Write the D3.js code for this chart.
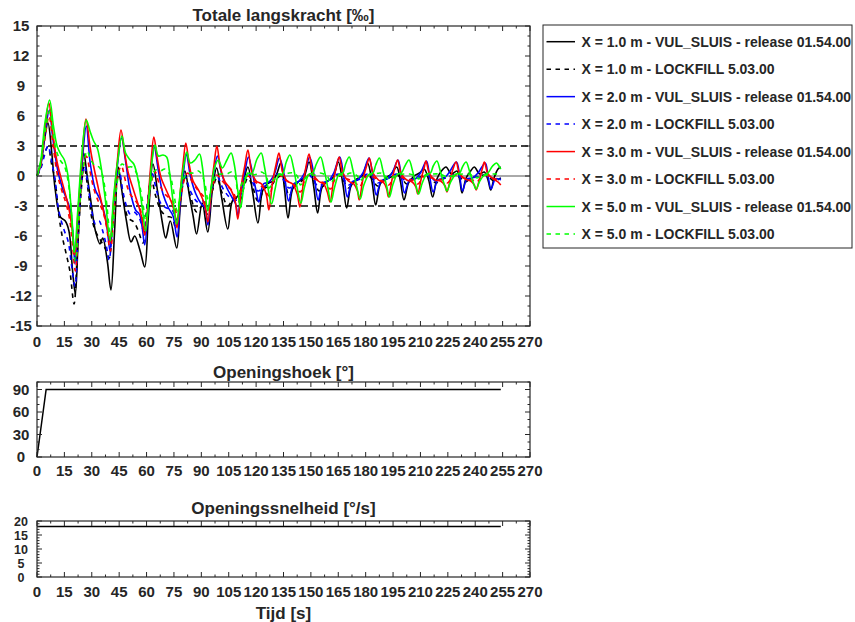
<!DOCTYPE html>
<html><head><meta charset="utf-8">
<script src="https://cdn.jsdelivr.net/npm/d3@7"></script>
<style>
body{margin:0;background:#fff;}
text{font-family:"Liberation Sans",Arial,sans-serif;font-weight:bold;fill:#262626;}
</style></head>
<body><svg id="c" width="855" height="622"></svg>
<script>
// ---------- data ----------
const xTicks = [0,15,30,45,60,75,90,105,120,135,150,165,180,195,210,225,240,255,270];
const yTicksMain = [-15,-12,-9,-6,-3,0,3,6,9,12,15];
const yTicksHoek = [0,30,60,90];
const yTicksSnel = [0,5,10,15,20];
const limitLines = [3,-3];

const legendLabels = [
 "X = 1.0 m - VUL_SLUIS - release 01.54.00","X = 1.0 m - LOCKFILL 5.03.00",
 "X = 2.0 m - VUL_SLUIS - release 01.54.00","X = 2.0 m - LOCKFILL 5.03.00",
 "X = 3.0 m - VUL_SLUIS - release 01.54.00","X = 3.0 m - LOCKFILL 5.03.00",
 "X = 5.0 m - VUL_SLUIS - release 01.54.00","X = 5.0 m - LOCKFILL 5.03.00"];
const seriesColors = ["#000000","#000000","#0000ff","#0000ff","#ff0000","#ff0000","#00ff00","#00ff00"];
const seriesDashed = [false,true,false,true,false,true,false,true];

// [time s, force ‰]
const vsX1 = [[0,0],[2,1.2],[4,3.5],[6,5.3],[8,2.5],[10,-1.4],[12.8,-4.1],[15.5,-4.5],[17.5,-5.5],[19.5,-9.5],[21,-11.8],
[22.5,-6.5],[24,-1],[25.6,2.3],[27.5,0],[29.5,-2.5],[32,-5.5],[34.5,-6.8],[36,-6.2],[38.5,-8.5],[40.5,-11.4],
[42.5,-5.5],[44.5,0.9],[46.5,-1.5],[49,-4.5],[51.5,-6.6],[53.5,-6],[56.5,-7.5],[59,-9.1],
[61,-4],[63.5,1.2],[66,-1.5],[68.5,-4.5],[70.5,-6.2],[73,-4.5],[76.5,-7.2],
[78.5,-3],[81,0.5],[83.5,-2],[85.5,-4],[87.4,-5.8],[90.5,-2.7],[93.5,-5.6],
[96,-1.5],[98.4,0.8],[101,-2],[104.5,-5.3],[107,-2.5],[110,-2],[113,-0.5],[115.5,0.9],[118,-1.5],[121,-4.7],
[123.5,-1.5],[126,-0.8],[129,-0.5],[131.5,0.3],[133.5,1.3],[135.5,-1.2],[137.5,-4.2],
[140,-1.3],[143,-0.6],[146,-0.2],[149,1.4],[151.5,-1],[153.7,-3.7],
[156,-1.2],[159,-0.5],[162,-0.2],[165,1.4],[167.5,-0.8],[169.6,-3.2],
[172,-1],[175,-0.3],[178,0],[181,1.3],[183.5,-0.6],[185.5,-2.9],
[188,-0.8],[191,-0.2],[194,0.2],[197,0.9],[199,-0.5],[201,-2.4],
[203.5,-0.7],[206.5,0],[209.5,0.3],[212,0.7],[214.5,-0.4],[216.7,-2.1],
[219,-0.3],[221.5,0.5],[224,0.9],[227,0.2],[230,0.5],[231.5,-0.4],[232.8,-1.7],
[235,-0.2],[237.5,0.5],[239.5,0.9],[242.5,0.2],[245,0.4],[247,-0.4],[248.5,-1.4],
[250.5,-0.1],[252.5,0.7],[254,0.9]];

const lfX1 = [[0,0],[2,0.8],[4,2.2],[6,2.9],[8,1.2],[10,-0.6],[12,-4],[14,-6.2],[16,-7.8],[18,-9.5],[20.3,-12.8],
[22,-8],[24,-2],[25.8,1.0],[28,-1.5],[30,-4.2],[32,-5.5],[35,-6.5],[37.5,-7.3],[39.5,-8.2],
[41.5,-4],[43.5,-0.8],[45,0.2],[47.5,-2.5],[50,-4.2],[53,-4.6],[55.5,-5.5],[58,-6.7],
[60,-3.5],[62.5,-0.3],[65,-2],[68,-3.5],[71,-4],[74,-4.2],[76,-5.2],
[78.5,-2.5],[81,-0.2],[84,-2],[87.5,-3.6],[90.5,-3],[93.5,-3.8],
[96,-1.5],[98.5,-0.2],[101,-1.5],[104.5,-3],[108,-2.2],[111,-2.5],[113.5,-1],[115.5,-0.2],[118,-1],[121,-2.5],
[125,-1.2],[128,-1],[131,-0.3],[133.5,0],[136,-0.8],[138,-2],[141,-1],[145,-0.5],[149,0.1],[152,-0.6],[154.5,-1.5],
[158,-0.7],[161,-0.3],[165,0.1],[168,-0.5],[170.5,-1.2],[174,-0.5],[178,-0.2],[181,0.1],[184,-0.4],[186.5,-1],
[190,-0.4],[194,-0.1],[197,0.1],[200,-0.3],[202.5,-0.8],[206,-0.3],[210,-0.1],[213,0.1],[216,-0.3],[218.5,-0.7],
[222,-0.3],[226,-0.1],[229,0.1],[232,-0.2],[234.5,-0.6],[238,-0.2],[242,0],[245,0.1],[248,-0.2],[250.5,-0.5],[254,-0.2]];

const vsX2 = [[0,0],[2,1],[4.5,4.5],[6.8,6.6],[8.5,4],[11,0.9],[13.7,-1.1],[16.4,-2.4],[18.3,-3.4],[19.6,-5.5],[20.8,-8.8],
[22.5,-4],[24.8,1.5],[27,5.0],[29.2,1.2],[32,-1.4],[34.7,-2.4],[37.4,-4.1],[38.6,-5.5],[40,-7.5],
[42,-3],[44,1],[46.3,3.8],[48.5,1.5],[51,-1.5],[54,-3.4],[56,-3.8],[57.5,-5],[59,-6.9],
[61,-2.5],[62.5,0.8],[64.2,2.9],[66.5,0.5],[69,-1.8],[72,-3.2],[74.5,-4],[76.7,-6.1],
[78.5,-2.5],[80,0],[81.8,2.2],[84,0],[87,-1.8],[90,-2.8],[92,-3.2],[93.6,-4.9],
[95.5,-1.5],[97,0.5],[98.8,2.0],[101,0.3],[104,-1.2],[107,-2.2],[108.8,-2.8],[110,-4.0],
[112,-1.2],[114,0.6],[115.8,1.9],[118,0.3],[120,-1.5],[121.5,-2.6],
[124,-0.8],[127,-0.6],[130,0.2],[132.8,1.8],[135.5,0],[137.8,-2.5],
[140.5,-0.8],[143.5,-0.5],[146.5,0.3],[149.3,1.9],[151.8,0],[154,-2.4],
[156.5,-0.7],[159.5,-0.5],[162.5,0.3],[165.8,1.9],[168,0],[170,-2.1],
[172.5,-0.6],[175.5,-0.4],[178.5,0.3],[181.8,1.8],[184,0],[185.8,-1.9],
[188.5,-0.5],[191.5,-0.3],[194.5,0.3],[197.7,1.6],[199.5,0],[201.3,-1.7],
[204,-0.4],[207,-0.3],[210,0.3],[213.3,1.5],[215,0],[217,-1.6],
[219.5,-0.4],[222.5,-0.3],[225.5,0.3],[229.7,1.4],[231.5,0],[233,-1.5],
[235.5,-0.3],[238.5,-0.2],[241.5,0.3],[245.5,1.3],[247,0],[248.7,-1.3],
[251,-0.3],[253,-0.3],[254,-0.4]];

const lfX2 = [[0,0],[2,0.7],[4,2],[6,3.0],[8,1.5],[10,-0.5],[11.5,-3],[13,-4.3],[15,-5.5],[17,-6.5],[19,-9],[20.8,-11],
[22.5,-6],[24.5,-0.5],[26,1.0],[28,-1],[30,-3.5],[32,-4.8],[34,-4.5],[36,-5.5],[38,-7],[39.5,-8.4],
[41.5,-4],[43.5,-0.5],[45,0.5],[47,-1.5],[49,-3],[51,-3.8],[53,-3.6],[56,-4.2],[58.5,-5.5],
[61,-2],[63,0.3],[65.5,-1.5],[68,-2.8],[71,-3.2],[74,-3.4],[76.5,-4.4],
[79,-1.5],[81,0],[84,-1.5],[88,-2.6],[91,-2.5],[93.5,-3.2],
[96,-1],[98.5,0],[102,-1.3],[106,-2.2],[110,-2.4],[113,-1],[115.5,0.3],[118,-0.6],[121,-1.5],[125,-1],[128,-0.8],
[132,0.2],[135,-0.4],[138,-1.2],[141,-0.8],[145,-0.4],[148.5,0.2],[151,-0.3],[154,-1],[158,-0.6],[161,-0.3],
[165,0.2],[168,-0.3],[170.5,-0.9],[174,-0.5],[177,-0.3],[181,0.2],[184,-0.2],[186.5,-0.7],[190,-0.4],[193,-0.2],
[197,0.2],[200,-0.2],[202.5,-0.6],[206,-0.3],[209,-0.2],[213,0.1],[216,-0.2],[218.5,-0.5],[222,-0.2],[225,-0.1],
[229,0.1],[232,-0.1],[234.5,-0.4],[238,-0.2],[241,-0.1],[245,0.1],[248,-0.1],[250.5,-0.3],[254,-0.2]];

const vsX3 = [[0,0],[2,1.2],[4.5,5],[6.5,7.3],[8.5,4.5],[11,1.4],[14.5,-1.1],[17.3,-3.1],[19,-5],[20.8,-7.9],
[22.5,-3.5],[24.5,1.5],[26.8,5.7],[29,3],[30,1.9],[33.8,-1.4],[36.5,-3.6],[38.5,-5.2],[40,-6.6],
[42,-2.5],[44,1.5],[46,4.6],[48,2.3],[50,0.3],[53,-1.5],[56,-3.2],[57.5,-4.3],[59,-5.9],
[61,-2],[62.5,1.5],[64,3.9],[66,1.6],[68,-0.2],[71,-1.5],[74,-2.8],[75.5,-3.8],[76.7,-5.2],
[78.5,-1.5],[80,1.2],[81.5,3.3],[83.5,1.0],[85.5,-0.5],[89,-1.6],[92,-3],[93.6,-4.6],
[95.5,-1],[97,1.2],[98.5,3.0],[100.5,0.8],[103,-0.6],[106,-1.3],[108.5,-2.5],[110,-4.3],
[112,-0.8],[113.8,1],[115.5,2.6],[117.5,0.5],[120,-0.5],[123,-0.8],[125.5,-1.8],[127,-3.4],
[129,-0.6],[131,1.2],[132.5,2.3],[134.5,0.4],[137,-0.5],[140,-0.8],[142.5,-1.8],[144,-3.1],
[146,-0.5],[147.5,1.1],[149,2.2],[151,0.3],[154,-0.5],[157,-0.8],[159,-1.6],[160.5,-2.6],
[162.5,-0.3],[164,1.0],[165.5,1.9],[167.5,0.3],[170.5,-0.5],[173.5,-0.8],[175.5,-1.5],[176.5,-2.4],
[178.5,-0.3],[180.5,1.0],[182,1.8],[184,0.3],[187,-0.4],[190,-0.7],[191.5,-1.3],[192.5,-2.1],
[194.5,-0.3],[196,0.8],[197.5,1.6],[199.5,0.2],[202.5,-0.4],[205.5,-0.6],[207.5,-1.1],[208.5,-1.8],
[210.5,-0.2],[212,0.8],[213,1.5],[215,0.2],[218,-0.4],[221,-0.5],[223.5,-1],[224.5,-1.6],
[226.5,-0.2],[228,0.8],[229.5,1.4],[231.5,0.2],[234.5,-0.3],[237.5,-0.5],[239.5,-0.9],[240.5,-1.4],
[242.5,-0.2],[244,0.8],[245,1.4],[247,0.2],[250,-0.3],[252.5,-0.6],[254,-0.9]];

const lfX3 = [[0,0],[2,1],[4.5,4],[6.6,6.0],[8.5,3.5],[11,0.3],[13.5,-1.4],[16,-2.8],[18,-4.5],[19.5,-7],[21,-9.5],
[22.8,-5],[24.8,0],[27,2.0],[29,0.5],[31,-1.2],[33.5,-2.5],[36,-3.5],[38,-5],[40.2,-7.5],
[42.2,-3.5],[44.2,0],[46.2,1.0],[48.5,-0.5],[51,-1.8],[54,-2.5],[56.5,-3.3],[59.2,-5.4],
[61.2,-2.5],[63,-0.3],[64.5,0.5],[67,-0.8],[70,-1.8],[73,-2.3],[75,-2.8],[77,-4.2],
[79,-1.8],[81,-0.2],[82.5,0.3],[85,-0.6],[88,-1.4],[91,-2.0],[93.8,-3.4],
[96,-1.2],[98.5,0.1],[101,-0.4],[104,-1],[107,-1.5],[110.2,-2.6],
[112.5,-0.9],[115.5,0],[118,-0.4],[121,-0.8],[124,-1.2],[127.2,-2.0],
[129.5,-0.6],[132.5,0.1],[135,-0.3],[138,-0.6],[141,-0.9],[144.2,-1.6],
[146.5,-0.5],[149,0.1],[152,-0.3],[155,-0.5],[158,-0.8],[160.7,-1.3],
[163,-0.4],[165.5,0.1],[168.5,-0.2],[171.5,-0.4],[174.5,-0.7],[176.7,-1.1],
[179,-0.3],[182,0.1],[185,-0.2],[188,-0.4],[190.5,-0.6],[192.7,-0.9],
[195,-0.3],[197.5,0.1],[200.5,-0.2],[203.5,-0.3],[206.5,-0.5],[208.7,-0.8],
[211,-0.2],[213,0.1],[216,-0.2],[219,-0.3],[222,-0.4],[224.7,-0.7],
[227,-0.2],[229.5,0.1],[232.5,-0.1],[235.5,-0.3],[238.5,-0.4],[240.7,-0.6],
[243,-0.2],[245,0.1],[248,-0.1],[251,-0.3],[254,-0.5]];

const vsX5 = [[0,0],[2,1.5],[4.5,5.5],[6.9,7.6],[9,5],[11,3],[13,2.2],[15,1.6],[17,0],[18.8,-3.5],[20.5,-7.6],
[22.5,-3],[24.5,2],[27,5.6],[29,4.5],[31,3.5],[33,2.8],[35,1],[37.5,-2.5],[40,-6.4],
[42,-2],[44.2,1.5],[46.5,4.0],[48.5,2.3],[51,1.6],[53,1.2],[55.5,-0.5],[57.5,-3],[59.5,-5.5],
[61.5,-1.5],[63,1.5],[64.6,3.1],[66.5,2.0],[69,2.1],[71,1.9],[72.5,0.5],[74.5,-2.5],[76.5,-4.8],
[78.5,-1.5],[80.5,1.2],[82,2.4],[84,1.3],[86.5,1.6],[89,2.2],[90.5,1],[92,-1.5],[93.5,-3.5],
[95.5,-1],[97.5,1],[99.3,1.6],[101.5,0.8],[104,1.6],[106.3,2.3],[108,1.2],[110,-1.5],[111.5,-3.2],
[113.5,-0.8],[115.5,0.3],[117.5,0.2],[120.5,1.7],[122.8,2.3],[124.5,1],[126.5,-1.2],[128.5,-2.8],
[130.5,-1.2],[132.5,0.2],[134.5,0.2],[136.5,1.4],[138.5,2.1],[140.5,0.8],[142.5,-1.2],[144.5,-2.7],
[146.5,-1.1],[149,0.2],[151,0.3],[153,1.2],[155.3,1.9],[157.3,0.6],[159.3,-1.2],[161,-2.6],
[163,-1.1],[165.5,0.2],[167.5,0.3],[169,1.2],[171,1.9],[173,0.6],[175,-1],[177,-2.3],
[179,-0.9],[182,0.2],[184,0.3],[185.5,1.1],[187.5,1.8],[189.5,0.5],[191.5,-1],[193,-2.1],
[195,-0.8],[197.5,0.2],[199.5,0.3],[201.5,1.0],[203.7,1.6],[205.7,0.5],[207.5,-0.9],[209,-1.8],
[211,-0.7],[213.5,0.2],[215.5,0.3],[217,1.0],[219,1.5],[221,0.4],[223,-0.8],[224.5,-1.5],
[226.5,-0.6],[229.5,0.2],[231.5,0.3],[233,0.9],[235,1.4],[237,0.4],[239,-0.7],[240.5,-1.3],
[242.5,-0.5],[245,0.1],[247,0.3],[249.5,1.0],[251.7,1.3],[253,1.0],[254,0.7]];

const lfX5 = [[0,0],[2,1.2],[4.5,4.5],[7,6.5],[9,4],[11,2.3],[13,1.5],[15,1],[17,-0.5],[19,-4],[21,-8.5],
[23,-4],[25,0.5],[27.5,2.5],[29.5,1.6],[32,1.0],[34,0.9],[36,0],[38,-2.5],[40.5,-6.5],
[42.5,-3],[44.5,0],[46.5,1.2],[49,0.9],[52,0.9],[54,0.5],[56,-0.8],[57.8,-2.5],[59.5,-4.4],
[61.5,-1.8],[63.5,0.2],[65,0.6],[67.5,0.5],[70,0.7],[72.5,0.2],[74.5,-1.2],[76.8,-3.5],
[79,-1.2],[81,0],[83,0.3],[86,0.3],[88.5,0.5],[90.5,0],[92,-0.8],[93.8,-2.5],
[96,-0.8],[98.5,0.1],[101,0.2],[104,0.2],[106.5,0.4],[108.5,-0.1],[110.3,-1.8],
[112.5,-0.6],[115.5,0.1],[118,0.1],[121,0.2],[123,0.4],[125.5,0],[127.3,-1.2],
[129.5,-0.4],[132.5,0.1],[135,0.1],[138,0.3],[140.5,0.3],[142.5,0],[144.3,-0.9],
[146.5,-0.3],[149,0.1],[152,0.1],[155,0.3],[157,0.2],[159,0],[160.8,-0.7],
[163,-0.2],[166,0.1],[169,0.1],[171.5,0.3],[173.5,0.2],[175.5,0],[177,-0.5],
[179,-0.1],[182,0.1],[185,0.2],[188,0.3],[190,0.1],[191.5,-0.1],[193,-0.4],
[195,-0.1],[198,0.1],[201,0.2],[204,0.2],[206,0.1],[208,-0.1],[209,-0.3],
[211,0],[214,0.1],[217,0.2],[220,0.2],[222,0.1],[224,-0.1],[225,-0.2],
[227,0],[230,0.1],[233,0.2],[236,0.2],[238,0.1],[240,0],[241,-0.2],
[243,0],[246,0.1],[249,0.2],[252,0.2],[254,0.2]];

const openingshoek = [[0,0],[5,90],[254,90]];
const openingssnelheid = [[0,18],[254,18]];

const seriesData = [vsX1, lfX1, vsX2, lfX2, vsX3, lfX3, vsX5, lfX5];

// ---------- drawing ----------
const svg = d3.select("#c");
const X0 = 37, X1 = 530;
const x = d3.scaleLinear().domain([0,270]).range([X0,X1]);
const axisCol = "#262626";

function panel(y, yTicks, yMinorStep, title, titleY, xPad, yFont){
  const [y0,y1] = y.range();
  const g = svg.append("g");
  const bottom = y0, top = y1;
  const minorX = d3.range(7.5,270,15);
  xTicks.forEach(v=>{
    g.append("line").attr("x1",x(v)).attr("x2",x(v)).attr("y1",bottom).attr("y2",bottom-5).attr("stroke",axisCol);
    g.append("line").attr("x1",x(v)).attr("x2",x(v)).attr("y1",top).attr("y2",top+5).attr("stroke",axisCol);
    g.append("text").attr("x",x(v)).attr("y",bottom+xPad).attr("dy","0.71em").attr("text-anchor","middle").attr("font-size",15).text(v);
  });
  minorX.forEach(v=>{
    g.append("line").attr("x1",x(v)).attr("x2",x(v)).attr("y1",bottom).attr("y2",bottom-2.5).attr("stroke",axisCol);
    g.append("line").attr("x1",x(v)).attr("x2",x(v)).attr("y1",top).attr("y2",top+2.5).attr("stroke",axisCol);
  });
  const [dmin,dmax] = y.domain();
  const minorY = d3.range(dmin, dmax+0.001, yMinorStep).filter(v=>!yTicks.includes(v));
  yTicks.forEach(v=>{
    g.append("line").attr("x1",X0).attr("x2",X0+5).attr("y1",y(v)).attr("y2",y(v)).attr("stroke",axisCol);
    g.append("line").attr("x1",X1).attr("x2",X1-5).attr("y1",y(v)).attr("y2",y(v)).attr("stroke",axisCol);
    g.append("text").attr("x",21).attr("y",y(v)).attr("dy","0.36em").attr("text-anchor","middle").attr("font-size",yFont).text(v);
  });
  minorY.forEach(v=>{
    g.append("line").attr("x1",X0).attr("x2",X0+2.5).attr("y1",y(v)).attr("y2",y(v)).attr("stroke",axisCol);
    g.append("line").attr("x1",X1).attr("x2",X1-2.5).attr("y1",y(v)).attr("y2",y(v)).attr("stroke",axisCol);
  });
  g.append("rect").attr("x",X0).attr("y",top).attr("width",X1-X0).attr("height",bottom-top)
    .attr("fill","none").attr("stroke",axisCol).attr("stroke-width",1.2);
  svg.append("text").attr("x",(X0+X1)/2).attr("y",titleY).attr("text-anchor","middle").attr("font-size",17).text(title);
  return g;
}

// main panel
const yMain = d3.scaleLinear().domain([-15,15]).range([326,26]);
const gMain = svg.append("g");
const lineMain = d3.line().x(d=>x(d[0])).y(d=>yMain(d[1])).curve(d3.curveCatmullRom.alpha(0.5));
gMain.append("line").attr("x1",X0).attr("x2",X1).attr("y1",yMain(0)).attr("y2",yMain(0)).attr("stroke","#555").attr("stroke-width",1);
limitLines.forEach(v=>{
  gMain.append("line").attr("x1",X0).attr("x2",X1).attr("y1",yMain(v)).attr("y2",yMain(v))
   .attr("stroke","#000").attr("stroke-width",1.6).attr("stroke-dasharray","7,4");
});
seriesData.forEach((s,i)=>{
  gMain.append("path").attr("d",lineMain(s)).attr("fill","none").attr("stroke",seriesColors[i])
    .attr("stroke-width",1.6).attr("stroke-linejoin","round").attr("stroke-dasharray",seriesDashed[i]?"4.5,4.5":null);
});
panel(yMain, yTicksMain, 1, "Totale langskracht [‰]", 20.5, 10, 15);

// legend
const lg = svg.append("g");
lg.append("rect").attr("x",543).attr("y",25).attr("width",309).attr("height",223).attr("fill","#fff").attr("stroke",axisCol).attr("stroke-width",1);
legendLabels.forEach((lab,i)=>{
  const yy = 41.7 + i*27.47;
  lg.append("line").attr("x1",546.5).attr("x2",575).attr("y1",yy).attr("y2",yy)
   .attr("stroke",seriesColors[i]).attr("stroke-width",1.5).attr("stroke-dasharray",seriesDashed[i]?"4.5,4.5":null);
  lg.append("text").attr("x",581.5).attr("y",yy).attr("dy","0.36em").attr("font-size",14).text(lab);
});

// Openingshoek
const yHoek = d3.scaleLinear().domain([0,100]).range([457,382]);
svg.append("path").attr("d",d3.line().x(d=>x(d[0])).y(d=>yHoek(d[1]))(openingshoek)).attr("fill","none").attr("stroke","#000").attr("stroke-width",1.5);
panel(yHoek, yTicksHoek, 10, "Openingshoek [°]", 378, 8, 15);

// Openingssnelheid
const ySnel = d3.scaleLinear().domain([0,20]).range([577,521]);
svg.append("path").attr("d",d3.line().x(d=>x(d[0])).y(d=>ySnel(d[1]))(openingssnelheid)).attr("fill","none").attr("stroke","#000").attr("stroke-width",1.5);
panel(ySnel, yTicksSnel, 1, "Openingssnelheid [°/s]", 514, 9, 12.5);
svg.append("text").attr("x",(X0+X1)/2).attr("y",619).attr("text-anchor","middle").attr("font-size",17).text("Tijd [s]");
</script></body></html>
